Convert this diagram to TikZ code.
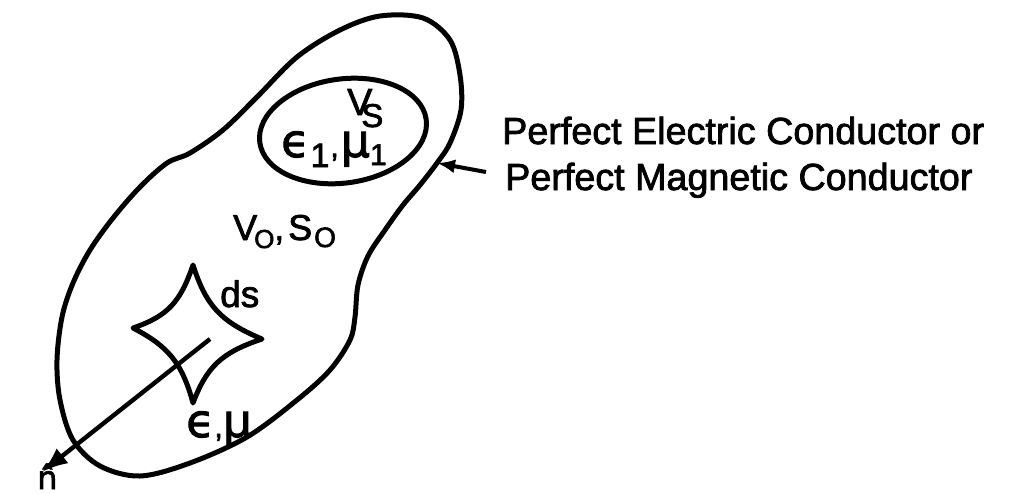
\documentclass[tikz,border=0pt]{standalone}
\usepackage{fontspec}
\setmainfont{Liberation Sans}[FakeBold=2]
\newfontfamily\gk{DejaVu Sans}[FakeBold=2]
\usetikzlibrary{arrows.meta}
\begin{document}
\begin{tikzpicture}[x=1pt,y=-1pt,
  outline/.style={line width=5pt, line join=round, line cap=round},
  lbl/.style={inner sep=0pt, anchor=base west},
  big/.style={font=\fontsize{37.7}{46}\selectfont},
  pointer/.style={line width=4pt, -{Latex[length=18pt,width=14pt]}},
  normal/.style={line width=4.4pt, -{Latex[length=26pt,width=19pt]}},
]
\useasboundingbox (0,0) rectangle (1009,493);
% outer boundary
\draw[outline] plot[smooth cycle, tension=0.55] coordinates {(380,16) (423,18) (450,40) (460,75) (461,110) (450,143) (437,163) (420,185) (403,205) (385,230) (368,256) (358,285) (355,317) (350,340) (330,370) (297,400) (247,437) (190,463) (140,476) (100,466) (73,440) (60,400) (57,360) (62,317) (73,283) (90,250) (113,218) (140,187) (167,163) (190,153) (223,130) (257,97) (297,57) (340,30)};
% inner region Vs
\draw[outline, rotate around={8:(343,131)}] (343,131) ellipse [x radius=84pt, y radius=52pt];
% surface element ds
\coordinate (T) at (193,265);
\coordinate (R) at (262,339);
\coordinate (B) at (193,403);
\coordinate (L) at (133,328);
\draw[outline] (T) .. controls (206.2,306.4) and (221.4,322.0) .. (R)
  .. controls (221.2,352.7) and (206.8,366.8) .. (B)
  .. controls (181.8,361.8) and (167.3,345.8) .. (L)
  .. controls (167.5,316.1) and (180.3,302.5) .. (T) -- cycle;
% normal vector
\coordinate (nstart) at (210,339);
\coordinate (ntip) at (42,472);
\draw[normal] (nstart) -- (ntip);
% pointer to boundary
\coordinate (ptail) at (486,172);
\coordinate (ptip) at (437,163);
\draw[pointer] (ptail) -- (ptip);
% labels
\node[lbl, big] (pec) at (502,144) {Perfect Electric Conductor or};
\node[lbl, big] (pmc) at (505,190) {Perfect Magnetic Conductor};
\node[lbl, font=\fontsize{37.7}{40}\selectfont] (vs) at (347,115) {V\kern-11pt\raisebox{-12pt}{\fontsize{33}{33}\selectfont S}};
\node[lbl] (emone) at (281,157) {{\gk\fontsize{46}{48}\selectfont ϵ}\kern1pt\raisebox{-10pt}{\fontsize{34}{34}\selectfont 1}\kern1pt{\fontsize{30}{30}\selectfont ,}\kern2pt{\gk\fontsize{46}{48}\selectfont μ}\raisebox{-8pt}{\fontsize{30}{30}\selectfont 1}};
\node[lbl] (vo) at (233,240) {\fontsize{36}{36}\selectfont V\kern-3pt\raisebox{-8pt}{\fontsize{26}{26}\selectfont O}{\fontsize{35}{35}\selectfont ,}\kern4pt S\kern2pt\raisebox{-7pt}{\fontsize{28}{28}\selectfont O}};
\node[lbl, font=\fontsize{37}{37}\selectfont] (ds) at (220,307) {ds};
\node[lbl] (em) at (186,437) {{\gk\fontsize{46}{48}\selectfont ϵ}{\fontsize{30}{30}\selectfont ,}{\gk\fontsize{46}{48}\selectfont μ}};
\node[lbl, font=\gk\fontsize{32}{32}\selectfont] (nhat) at (37,489) {n̂};
\end{tikzpicture}
\end{document}
